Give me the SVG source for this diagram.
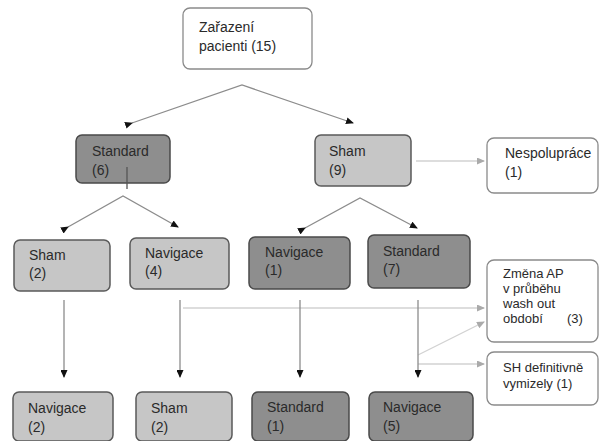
<svg xmlns="http://www.w3.org/2000/svg" width="600" height="441" viewBox="0 0 600 441">
<style>
text{font-family:"Liberation Sans",Arial,sans-serif;font-size:14px;fill:#2a2a2a}
.s{font-size:13px}
.w{fill:#fff;stroke:#8a8a8a;stroke-width:1.3}
.l{fill:#c6c6c6;stroke:#5a5a5a;stroke-width:1.5}
.d{fill:#8e8e8e;stroke:#4a4a4a;stroke-width:1.5}
.c{fill:none;stroke:#8c8c8c;stroke-width:1.3}
.f{fill:none;stroke:#d2d2d2;stroke-width:1.3}
</style>
<defs>
<pattern id="dots" width="3" height="3" patternUnits="userSpaceOnUse">
<rect width="3" height="3" fill="#c8c8c8"/>
<rect width="1" height="1" fill="#bbbbbb"/>
</pattern>
<marker id="ad" markerWidth="8" markerHeight="7" refX="7" refY="3.5" orient="auto" markerUnits="userSpaceOnUse">
<path d="M0,0 L8,3.5 L0,7 z" fill="#111"/>
</marker>
<marker id="al" markerWidth="8" markerHeight="7" refX="7" refY="3.5" orient="auto" markerUnits="userSpaceOnUse">
<path d="M0,0 L8,3.5 L0,7 z" fill="#aaa"/>
</marker>
</defs>
<rect width="600" height="441" fill="#fff"/>
<g id="zarazeni">
<rect class="w" x="183" y="8" width="129" height="61" rx="7"/>
<text x="199" y="32">Zařazení</text>
<text x="199" y="51">pacienti (15)</text>
</g>
<g id="standard6">
<rect class="d" x="76" y="135" width="94" height="48" rx="6"/>
<text x="92" y="156">Standard</text>
<text x="92" y="175">(6)</text>
</g>
<g id="sham9">
<rect class="l" x="315" y="135" width="96" height="51" rx="6" fill="url(#dots)"/>
<text x="329" y="156">Sham</text>
<text x="329" y="175">(9)</text>
</g>
<g id="nespoluprace">
<rect class="w" x="487" y="138" width="111" height="55" rx="7"/>
<text x="505" y="158">Nespolupráce</text>
<text x="505" y="177">(1)</text>
</g>
<g id="sham2">
<rect class="l" x="14" y="240" width="96" height="51" rx="6" fill="url(#dots)"/>
<text x="29" y="260">Sham</text>
<text x="29" y="278">(2)</text>
</g>
<g id="navigace4">
<rect class="l" x="130" y="238" width="99" height="51" rx="6" fill="url(#dots)"/>
<text x="145" y="258">Navigace</text>
<text x="145" y="276">(4)</text>
</g>
<g id="navigace1">
<rect class="d" x="249" y="237" width="101" height="52" rx="6"/>
<text x="265" y="257">Navigace</text>
<text x="265" y="275">(1)</text>
</g>
<g id="standard7">
<rect class="d" x="368" y="235" width="102" height="53" rx="6"/>
<text x="383" y="256">Standard</text>
<text x="383" y="274">(7)</text>
</g>
<g id="zmenaAP">
<rect class="w" x="487" y="260" width="111" height="82" rx="7"/>
<text class="s" x="503" y="278">Změna AP</text>
<text class="s" x="503" y="293">v průběhu</text>
<text class="s" x="503" y="308">wash out</text>
<text class="s" x="503" y="323">období <tspan x="567">(3)</tspan></text>
</g>
<g id="shDefinitivne">
<rect class="w" x="487" y="352" width="111" height="53" rx="7"/>
<text class="s" x="503" y="372">SH definitivně</text>
<text class="s" x="503" y="388">vymizely (1)</text>
</g>
<g id="navigace2">
<rect class="l" x="13" y="392" width="100" height="49" rx="6" fill="url(#dots)"/>
<text x="28" y="413">Navigace</text>
<text x="28" y="432">(2)</text>
</g>
<g id="sham2b">
<rect class="l" x="136" y="392" width="96" height="49" rx="6" fill="url(#dots)"/>
<text x="151" y="413">Sham</text>
<text x="151" y="432">(2)</text>
</g>
<g id="standard1">
<rect class="d" x="252" y="392" width="97" height="49" rx="6"/>
<text x="267" y="412">Standard</text>
<text x="267" y="431">(1)</text>
</g>
<g id="navigace5">
<rect class="d" x="369" y="392" width="104" height="49" rx="6"/>
<text x="383" y="412">Navigace</text>
<text x="383" y="431">(5)</text>
</g>
<g id="connectors">
<polyline class="c" points="132,123 242,85 353,123" marker-start="url(#ad)" marker-end="url(#ad)"/>
<line x1="127" y1="167" x2="127" y2="189" stroke="#555" stroke-width="1.3"/>
<polyline class="c" points="68,227 123,196 178,227" marker-start="url(#ad)" marker-end="url(#ad)"/>
<polyline class="c" points="305,228 360,198 417,228" marker-start="url(#ad)" marker-end="url(#ad)"/>
<line class="f" x1="416" y1="161" x2="484" y2="161" marker-end="url(#al)"/>
<line class="f" x1="183" y1="308" x2="484" y2="308" marker-end="url(#al)"/>
<line class="f" x1="418" y1="355" x2="484" y2="322" marker-end="url(#al)"/>
<line class="f" x1="418" y1="364" x2="484" y2="364" marker-end="url(#al)"/>
<line class="c" x1="64" y1="300" x2="64" y2="377" marker-end="url(#ad)"/>
<line class="c" x1="180" y1="300" x2="180" y2="377" marker-end="url(#ad)"/>
<line class="c" x1="300" y1="300" x2="300" y2="377" marker-end="url(#ad)"/>
<line class="c" x1="418" y1="300" x2="418" y2="377" marker-end="url(#ad)"/>
</g>
</svg>
